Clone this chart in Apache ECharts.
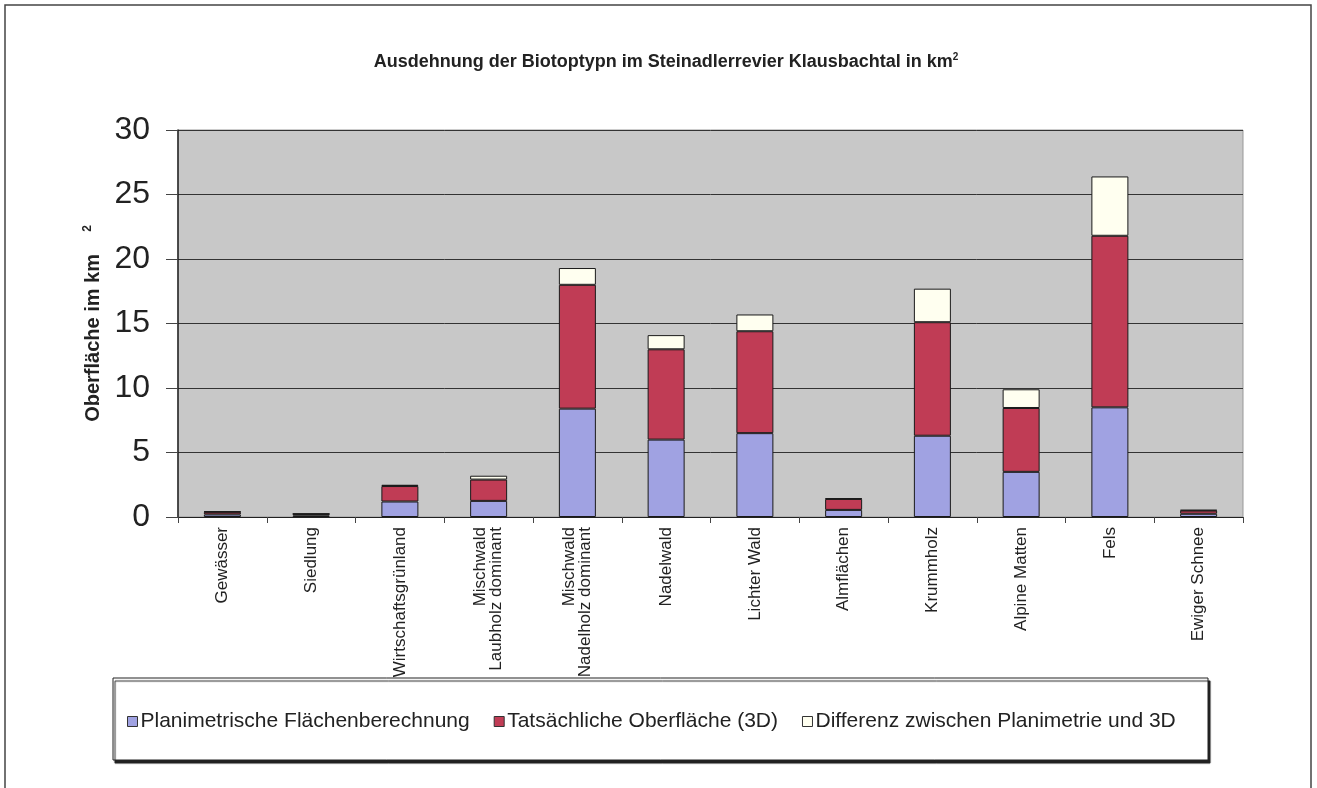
<!DOCTYPE html>
<html>
<head>
<meta charset="utf-8">
<script src="https://cdn.jsdelivr.net/npm/echarts@6/dist/echarts.min.js"></script>
<style>html,body{margin:0;padding:0;background:#fff;}#c{width:1317px;height:788px;}</style>
</head>
<body>
<div id="c"></div>
<script>
const categories = ['Gewässer','Siedlung','Wirtschaftsgrünland','Mischwald\nLaubholz dominant','Mischwald\nNadelholz dominant','Nadelwald','Lichter Wald','Almflächen','Krummholz','Alpine Matten','Fels','Ewiger Schnee'];
const planimetrie = [0.2, 0.12, 1.2, 1.25, 8.4, 6.0, 6.5, 0.55, 6.3, 3.5, 8.5, 0.25];
const oberflaeche3D = [0.2, 0.12, 1.2, 1.65, 9.6, 7.0, 7.9, 0.85, 8.8, 4.95, 13.3, 0.25];
const differenz = [0.03, 0.02, 0.1, 0.3, 1.3, 1.1, 1.3, 0.05, 2.6, 1.45, 4.6, 0.05];
const seriesNames = ['Planimetrische Flächenberechnung','Tatsächliche Oberfläche (3D)','Differenz zwischen Planimetrie und 3D'];
const yTicks = [0,5,10,15,20,25,30];

const chart = echarts.init(document.getElementById('c'), null, {renderer:'canvas'});
const font = '"Liberation Sans", Arial, sans-serif';
const barStyle = (c) => ({color:c, borderColor:'#1a1a1a', borderWidth:1});
chart.setOption({
  animation:false,
  backgroundColor:'#ffffff',
  textStyle:{fontFamily:font},
  graphic:[
    {type:'rect', shape:{x:5,y:5,width:1306,height:800}, style:{fill:'none', stroke:'#444', lineWidth:1.5}, z:-1},
    {type:'rect', shape:{x:113,y:678,width:1095,height:82}, style:{fill:'#fff', stroke:'#222', lineWidth:1, shadowColor:'#222', shadowOffsetX:2, shadowOffsetY:3, shadowBlur:1}, z:0}
  ],
  title:{
    text:'Ausdehnung der Biotoptypn im Steinadlerrevier Klausbachtal in km{s|2}',
    left:661, top:47, textAlign:'center',
    textStyle:{fontSize:18, fontWeight:'bold', color:'#222', fontFamily:font, letterSpacing:-0.3,
      rich:{s:{fontSize:10, fontWeight:'bold', verticalAlign:'top', padding:[0,0,10,0]}}}
  },
  legend:{
    data:seriesNames, left:122, top:706, icon:'rect', itemWidth:10, itemHeight:10, itemGap:24,
    textStyle:{fontSize:21, color:'#222', fontFamily:font, letterSpacing:-0.4, padding:[0,0,0,-2]},
    itemStyle:{borderColor:'#333', borderWidth:1}, z:5
  },
  grid:{left:178, right:74, top:130, bottom:271, show:true, backgroundColor:'#c8c8c8', borderColor:'#999', borderWidth:1},
  xAxis:{
    type:'category', data:categories,
    axisLine:{lineStyle:{color:'#222', width:1}},
    axisTick:{show:true, length:6, lineStyle:{color:'#444'}},
    axisLabel:{rotate:90, fontSize:17, color:'#222', margin:10, interval:0, fontFamily:font, lineHeight:16, letterSpacing:-0.3}
  },
  yAxis:{
    type:'value', min:0, max:30, interval:5,
    name:'Oberfläche im km    {s|2}', nameLocation:'middle', nameGap:72, nameRotate:90,
    nameTextStyle:{fontSize:20, fontWeight:'bold', color:'#222', fontFamily:font, letterSpacing:-0.4,
      rich:{s:{fontSize:12, fontWeight:'bold', padding:[0,0,12,0]}}},
    axisLine:{show:true, lineStyle:{color:'#222', width:1.5}},
    axisTick:{show:true, inside:false, length:12, lineStyle:{color:'#444'}},
    splitLine:{show:true, lineStyle:{color:'#333', width:1}},
    axisLabel:{fontSize:32, color:'#222', margin:28, fontFamily:font, formatter:(v)=> yTicks.includes(v)? String(v):''}
  },
  series:[
    {name:seriesNames[0], type:'bar', stack:'a', data:planimetrie, barWidth:37, itemStyle:barStyle('#a0a2e2')},
    {name:seriesNames[1], type:'bar', stack:'a', data:oberflaeche3D, barWidth:37, itemStyle:barStyle('#c03c55')},
    {name:seriesNames[2], type:'bar', stack:'a', data:differenz, barWidth:37, itemStyle:barStyle('#fffff0')}
  ]
});
</script>
</body>
</html>
